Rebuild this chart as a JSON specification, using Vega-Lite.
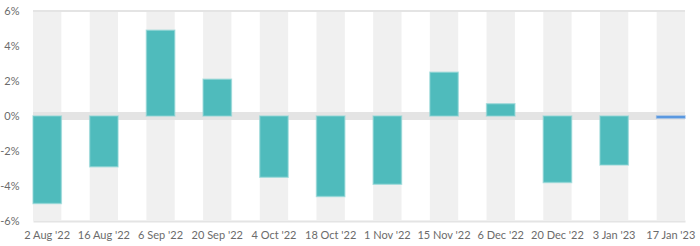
{
  "$schema": "https://vega.github.io/schema/vega-lite/v6.json",
  "width": 652,
  "height": 210,
  "autosize": "none",
  "padding": {"left": 33, "top": 11, "right": 15, "bottom": 25},
  "background": "white",
  "config": {
    "view": {"stroke": null},
    "font": "Lato",
    "axis": {"labelFont": "Lato", "labelFontSize": 11, "labelColor": "#6b6b6b", "ticks": false, "grid": false, "title": null, "labelOverlap": false, "labelBound": false},
    "axisY": {"labelPadding": 14, "domain": false, "values": [-6, -4, -2, 0, 2, 4, 6], "labelExpr": "datum.value + '%'"}
  },
  "data": {
    "values": [
      {"label": "2 Aug '22", "value": -5.0, "kind": "past"},
      {"label": "16 Aug '22", "value": -2.9, "kind": "past"},
      {"label": "6 Sep '22", "value": 4.9, "kind": "past"},
      {"label": "20 Sep '22", "value": 2.1, "kind": "past"},
      {"label": "4 Oct '22", "value": -3.5, "kind": "past"},
      {"label": "18 Oct '22", "value": -4.6, "kind": "past"},
      {"label": "1 Nov '22", "value": -3.9, "kind": "past"},
      {"label": "15 Nov '22", "value": 2.5, "kind": "past"},
      {"label": "6 Dec '22", "value": 0.7, "kind": "past"},
      {"label": "20 Dec '22", "value": -3.8, "kind": "past"},
      {"label": "3 Jan '23", "value": -2.8, "kind": "past"},
      {"label": "17 Jan '23", "value": -0.12, "kind": "latest"}
    ]
  },
  "layer": [
    {
      "mark": {"type": "bar", "color": "#f0f0f0"},
      "encoding": {
        "x": {
          "field": "label", "type": "nominal", "sort": null,
          "scale": {"paddingInner": 0.5, "paddingOuter": 0},
          "axis": {"labelAngle": 0, "labelPadding": 8, "domain": true, "domainColor": "#e4e4e4", "domainWidth": 2}
        },
        "y": {"datum": 6, "type": "quantitative", "scale": {"domain": [-6, 6], "nice": false}},
        "y2": {"datum": -6}
      }
    },
    {
      "mark": {"type": "rule", "color": "#e4e4e4", "strokeWidth": 8},
      "encoding": {"y": {"datum": 0, "type": "quantitative"}}
    },
    {
      "mark": {"type": "rule", "color": "#e4e4e4", "strokeWidth": 2},
      "encoding": {"y": {"datum": 6, "type": "quantitative"}}
    },
    {
      "mark": {"type": "bar", "strokeWidth": 1.5, "strokeOpacity": 0.6},
      "encoding": {
        "x": {"field": "label", "type": "nominal", "sort": null},
        "y": {"field": "value", "type": "quantitative"},
        "y2": {"datum": 0},
        "color": {"field": "kind", "type": "nominal", "scale": {"domain": ["past", "latest"], "range": ["#4fbbbc", "#4a8cda"]}, "legend": null},
        "stroke": {"field": "kind", "type": "nominal", "scale": {"domain": ["past", "latest"], "range": ["#8fd6d6", "#6fa6e6"]}, "legend": null}
      }
    }
  ]
}
